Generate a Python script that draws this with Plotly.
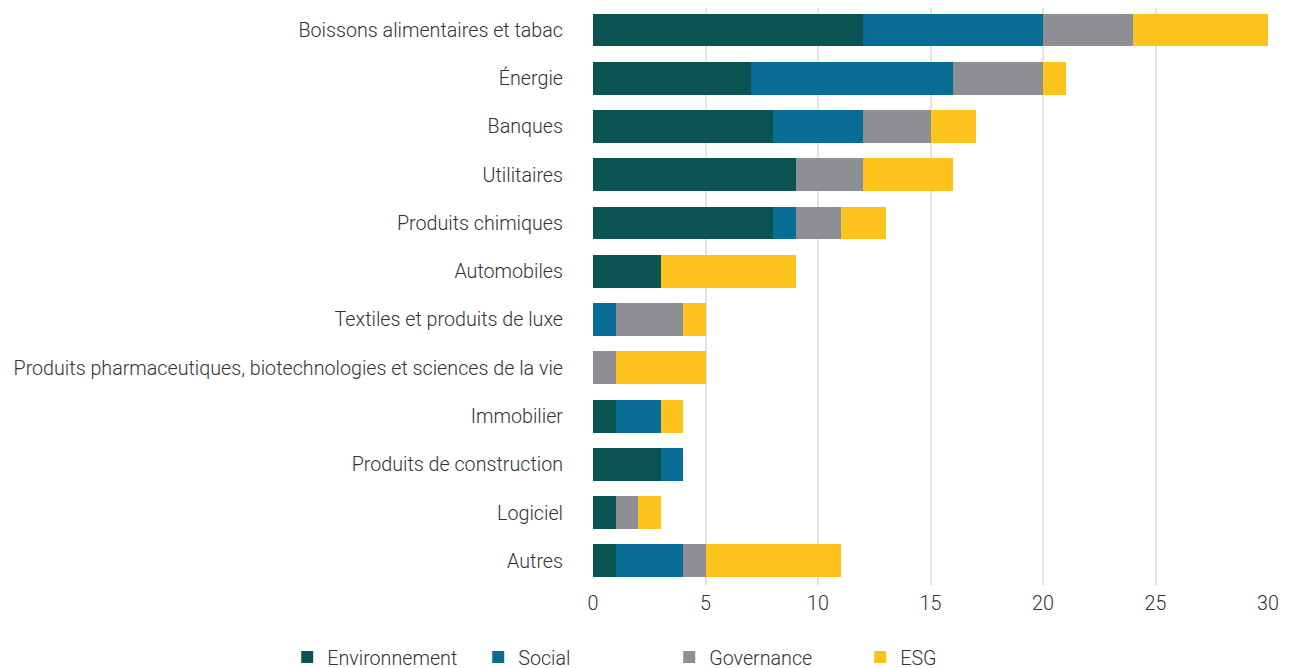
import plotly.graph_objects as go

categories = [
    "Boissons alimentaires et tabac",
    "Énergie",
    "Banques",
    "Utilitaires",
    "Produits chimiques",
    "Automobiles",
    "Textiles et produits de luxe",
    "Produits pharmaceutiques, biotechnologies et sciences de la vie",
    "Immobilier",
    "Produits de construction",
    "Logiciel",
    "Autres",
]
environnement = [12, 7, 8, 9, 8, 3, 0, 0, 1, 3, 1, 1]
social        = [8, 9, 4, 0, 1, 0, 1, 0, 2, 1, 0, 3]
governance    = [4, 4, 3, 3, 2, 0, 3, 1, 0, 0, 1, 1]
esg           = [6, 1, 2, 4, 2, 6, 1, 4, 1, 0, 1, 6]
x_ticks = [0, 5, 10, 15, 20, 25, 30]

series = [
    ("Environnement", environnement, "#0b5353"),
    ("Social", social, "#0a6d96"),
    ("Governance", governance, "#8d8f94"),
    ("ESG", esg, "#fdc31d"),
]

fig = go.Figure()
for name, vals, color in series:
    fig.add_trace(go.Bar(
        y=categories, x=vals, name=name, orientation="h",
        marker=dict(color=color, line=dict(width=0)),
    ))

FS = 19.7
fig.update_layout(
    barmode="stack",
    bargap=0.32,
    width=1289, height=660,
    margin=dict(l=585, r=29, t=0, b=83, autoexpand=False),
    paper_bgcolor="white", plot_bgcolor="white",
    font=dict(family="Roboto", size=FS, color="#333333", weight=300),
    showlegend=True,
    legend=dict(
        orientation="h", xref="paper", x=-0.453, xanchor="left",
        yref="paper", y=-0.125, yanchor="middle",
        font=dict(size=FS, color="#333333", weight=300),
        entrywidth=146, entrywidthmode="pixels",
        traceorder="normal",
    ),
    xaxis=dict(
        range=[0, 30], tickvals=x_ticks, showgrid=True,
        gridcolor="#e3e3e3", gridwidth=1.5, zeroline=False,
        showline=False, ticks="", automargin=False, ticklabelstandoff=4,
        tickfont=dict(size=FS, color="#333333", weight=300),
    ),
    yaxis=dict(
        range=[11.5, -0.456], showgrid=False, showline=False,
        ticks="", automargin=False, ticklabelstandoff=29,
        tickfont=dict(size=FS, color="#333333", weight=300),
    ),
)

fig.write_html("out.html")
